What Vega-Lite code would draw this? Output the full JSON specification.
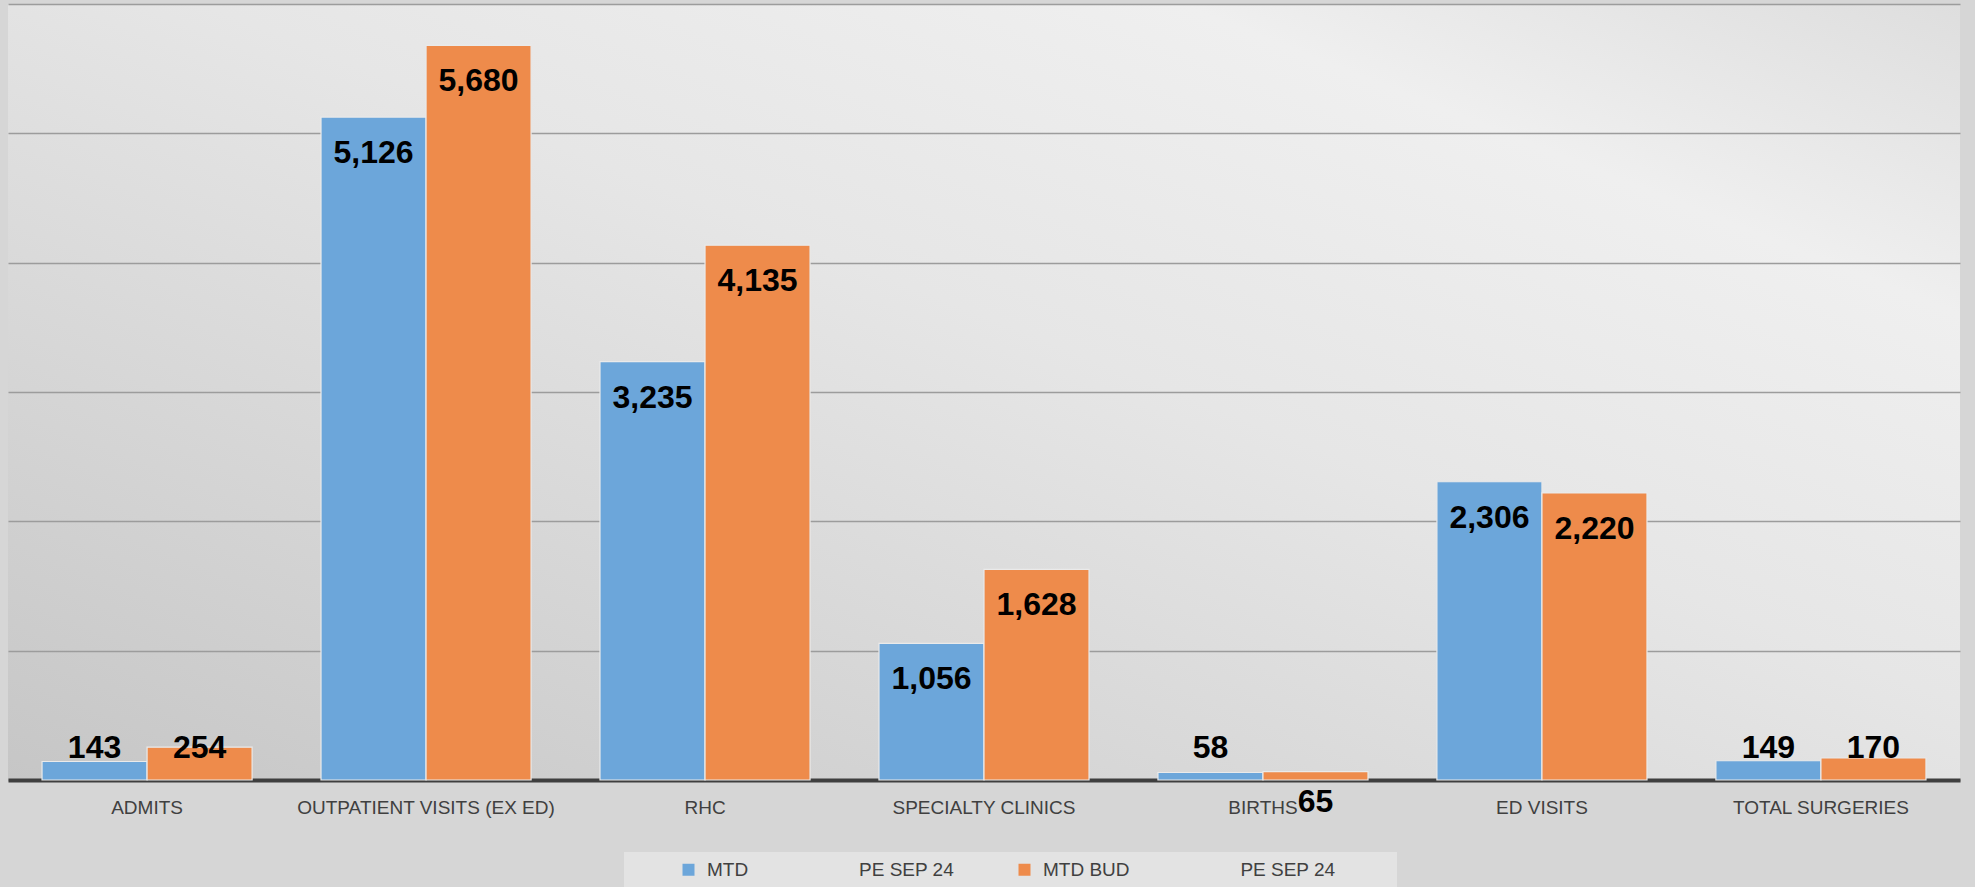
{
  "$schema": "https://vega.github.io/schema/vega-lite/v6.json",
  "width": 1952,
  "height": 776,
  "padding": {"left": 8, "top": 4, "right": 15, "bottom": 0},
  "background": "#d6d6d6",
  "config": {
    "view": {"stroke": null, "fill": {"gradient": "linear", "x1": 0, "y1": 1, "x2": 1, "y2": 0, "stops": [{"offset": 0, "color": "#c6c6c6"}, {"offset": 0.55, "color": "#e6e6e6"}, {"offset": 0.8, "color": "#efefef"}, {"offset": 1, "color": "#dedede"}]}},
    "font": "Liberation Sans"
  },
  "data": {
    "values": [
      {"category": "ADMITS", "series": "MTD", "value": 143},
      {"category": "ADMITS", "series": "MTD BUD", "value": 254},
      {"category": "OUTPATIENT VISITS (EX ED)", "series": "MTD", "value": 5126},
      {"category": "OUTPATIENT VISITS (EX ED)", "series": "MTD BUD", "value": 5680},
      {"category": "RHC", "series": "MTD", "value": 3235},
      {"category": "RHC", "series": "MTD BUD", "value": 4135},
      {"category": "SPECIALTY CLINICS", "series": "MTD", "value": 1056},
      {"category": "SPECIALTY CLINICS", "series": "MTD BUD", "value": 1628},
      {"category": "BIRTHS", "series": "MTD", "value": 58},
      {"category": "BIRTHS", "series": "MTD BUD", "value": 65},
      {"category": "ED VISITS", "series": "MTD", "value": 2306},
      {"category": "ED VISITS", "series": "MTD BUD", "value": 2220},
      {"category": "TOTAL SURGERIES", "series": "MTD", "value": 149},
      {"category": "TOTAL SURGERIES", "series": "MTD BUD", "value": 170}
    ]
  },
  "encoding": {
    "x": {
      "field": "category", "type": "nominal",
      "sort": ["ADMITS", "OUTPATIENT VISITS (EX ED)", "RHC", "SPECIALTY CLINICS", "BIRTHS", "ED VISITS", "TOTAL SURGERIES"],
      "scale": {"paddingInner": 0.247, "paddingOuter": 0.122},
      "axis": {"title": null, "labelAngle": 0, "labelFontSize": 19, "labelColor": "#404040", "labelPadding": 18, "ticks": false, "domainColor": "#3f3f3f", "domainWidth": 4, "labelLimit": 400}
    },
    "xOffset": {"field": "series", "type": "nominal", "sort": ["MTD", "MTD BUD"], "scale": {"paddingInner": 0}},
    "y": {
      "field": "value", "type": "quantitative",
      "scale": {"domain": [0, 6000], "nice": false},
      "axis": {"title": null, "labels": false, "ticks": false, "domain": false, "values": [0, 1000, 2000, 3000, 4000, 5000, 6000], "gridColor": "#9c9c9c", "gridWidth": 1.5}
    }
  },
  "layer": [
    {
      "mark": {"type": "bar", "stroke": "#eaeaea", "strokeWidth": 1.2},
      "encoding": {
        "color": {
          "field": "series", "type": "nominal",
          "scale": {"domain": ["MTD", "MTD BUD"], "range": ["#6CA6DA", "#EE8B4B"]},
          "legend": {
            "title": "\u00a0", "titleOrient": "left", "titlePadding": 47, "titleFontSize": 19,
            "orient": "none", "legendX": 616, "legendY": 848, "direction": "horizontal",
            "symbolType": "square", "symbolSize": 144, "symbolStrokeWidth": 0,
            "labelFontSize": 19, "labelColor": "#404040", "labelOffset": 9,
            "columnPadding": 60, "fillColor": "#e3e3e3", "padding": 8, "labelLimit": 800,
            "labelExpr": "datum.label == 'MTD' ? 'MTD\u00a0\u00a0\u00a0\u00a0\u00a0\u00a0\u00a0\u00a0\u00a0\u00a0\u00a0\u00a0\u00a0\u00a0\u00a0\u00a0\u00a0\u00a0\u00a0\u00a0\u00a0PE SEP 24' : 'MTD BUD\u00a0\u00a0\u00a0\u00a0\u00a0\u00a0\u00a0\u00a0\u00a0\u00a0\u00a0\u00a0\u00a0\u00a0\u00a0\u00a0\u00a0\u00a0\u00a0\u00a0\u00a0PE SEP 24\u00a0\u00a0\u00a0\u00a0\u00a0\u00a0\u00a0\u00a0\u00a0\u00a0\u200b'"
          }
        }
      }
    },
    {
      "transform": [{"filter": "datum.value >= 500"}],
      "mark": {"type": "text", "fontWeight": "bold", "fontSize": 32, "color": "#000000", "baseline": "middle", "dy": 36},
      "encoding": {"text": {"field": "value", "type": "quantitative", "format": ",d"}}
    },
    {
      "transform": [{"filter": "datum.value < 500 && !(datum.category == 'BIRTHS' && datum.series == 'MTD BUD')"}],
      "mark": {"type": "text", "fontWeight": "bold", "fontSize": 32, "color": "#000000", "baseline": "middle"},
      "encoding": {"y": {"datum": 247, "type": "quantitative"}, "text": {"field": "value", "type": "quantitative", "format": ",d"}}
    },
    {
      "transform": [{"filter": "datum.category == 'BIRTHS' && datum.series == 'MTD BUD'"}],
      "mark": {"type": "text", "fontWeight": "bold", "fontSize": 32, "color": "#000000", "baseline": "middle", "dy": 22},
      "encoding": {"y": {"datum": 0, "type": "quantitative"}, "text": {"field": "value", "type": "quantitative", "format": ",d"}}
    }
  ]
}
